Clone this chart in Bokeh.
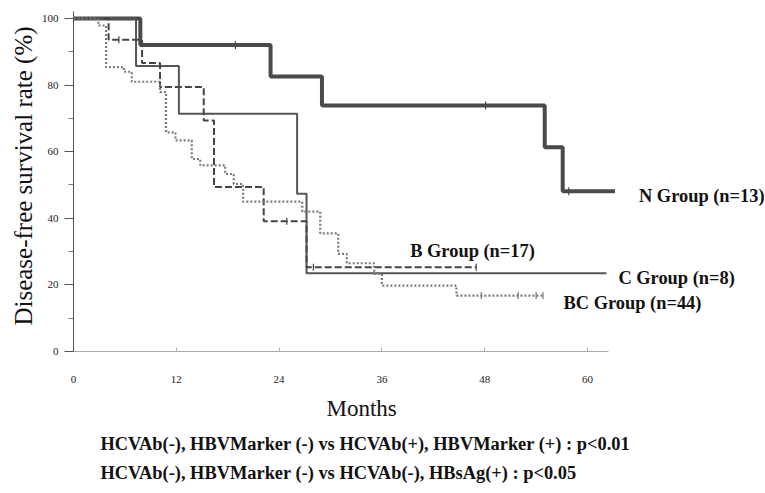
import numpy as np
from bokeh.plotting import figure
from bokeh.models import Range1d, FixedTicker, Label, Title
from bokeh.embed import file_html
from bokeh.resources import INLINE

# ---- data (months, survival %) ----
n_times = [0, 7.8, 23.0, 29.0, 55.0, 57.1, 63.2]
n_surv = [100, 92.0, 82.6, 73.9, 61.3, 48.1, 48.1]
n_cens_t = [18.9, 48.1, 57.8]
n_cens_s = [92.0, 73.9, 48.1]

c_times = [0, 7.3, 12.3, 26.1, 27.2, 62.2]
c_surv = [100, 85.7, 71.4, 47.4, 23.5, 23.5]

b_times = [0, 4.1, 8.0, 10.1, 15.2, 16.4, 22.2, 27.2, 47.0]
b_surv = [100, 93.6, 86.6, 79.4, 69.4, 49.4, 39.1, 25.3, 25.3]
b_cens_t = [5.3, 24.9, 28.0, 47.0]
b_cens_s = [93.6, 39.1, 25.3, 25.3]

bc_times = [0, 2.9, 3.8, 5.9, 6.8, 10.1, 10.8, 11.9, 13.8, 14.8, 17.7, 18.7,
            19.8, 26.7, 28.8, 30.9, 31.9, 35.1, 36.0, 44.7, 54.8]
bc_surv = [100, 97.9, 85.4, 84.0, 81.0, 77.9, 65.8, 63.4, 57.8, 55.9, 53.3, 50.3,
           45.0, 42.0, 35.5, 29.3, 26.5, 23.3, 19.8, 16.8, 16.8]
bc_cens_t = [47.6, 51.9, 54.0, 54.8]
bc_cens_s = [16.8, 16.8, 16.8, 16.8]

x_ticks = [0, 12, 24, 36, 48, 60]
x_axis_extent = (0, 62.5)
y_ticks = [0, 20, 40, 60, 80, 100]
y_minor = [10, 30, 50, 70, 90]
y_axis_extent = (0, 102)

group_labels = ["N Group (n=13)", "B Group (n=17)", "C Group (n=8)", "BC Group (n=44)"]
group_label_x = [66.0, 39.3, 63.6, 57.2]
group_label_y = [46.8, 30.3, 22.2, 14.7]

x_title = "Months"
y_title = "Disease-free survival rate (%)"
note_lines = ["HCVAb(-), HBVMarker (-) vs HCVAb(+), HBVMarker (+) : p<0.01",
              "HCVAb(-), HBVMarker (-) vs HCVAb(-), HBsAg(+) : p<0.05"]

SERIF = "Liberation Serif"

p = figure(width=765, height=493, x_range=Range1d(0, 80.77), y_range=Range1d(0, 105.4),
           output_backend="svg", toolbar_location=None,
           min_border_left=73, min_border_right=0, min_border_top=0, min_border_bottom=142)
p.outline_line_color = None
p.xgrid.visible = False
p.ygrid.visible = False
p.background_fill_color = "white"

# curves
p.step(n_times, n_surv, mode="after", line_color="#4a4a4a", line_width=4)
p.step(c_times, c_surv, mode="after", line_color="#555555", line_width=2)
p.step(b_times, b_surv, mode="after", line_color="#444444", line_width=2, line_dash="7 3")
p.step(bc_times, bc_surv, mode="after", line_color="#7a7a7a", line_width=2.2, line_dash="2 2")

# censor marks
p.scatter(n_cens_t, n_cens_s, marker="dash", angle=np.pi / 2, size=8, line_color="#4a4a4a", line_width=1.2)
p.scatter(b_cens_t, b_cens_s, marker="dash", angle=np.pi / 2, size=7, line_color="#444444", line_width=1.2)
p.scatter(bc_cens_t, bc_cens_s, marker="dash", angle=np.pi / 2, size=7, line_color="#777777", line_width=1.2)

# axes
xa = p.xaxis[0]
xa.ticker = FixedTicker(ticks=x_ticks)
xa.bounds = x_axis_extent
xa.major_tick_in = 4
xa.major_tick_out = 0
xa.minor_tick_in = 0
xa.minor_tick_out = 0
xa.axis_line_color = "#aaaaaa"
xa.major_tick_line_color = "#aaaaaa"
xa.major_label_text_font = SERIF
xa.major_label_text_font_size = "11px"
xa.major_label_text_color = "#222222"
xa.major_label_standoff = 24

ya = p.yaxis[0]
ya.ticker = FixedTicker(ticks=y_ticks, minor_ticks=y_minor)
ya.bounds = y_axis_extent
ya.major_tick_in = 0
ya.major_tick_out = 9
ya.minor_tick_in = 0
ya.minor_tick_out = 5
ya.axis_line_color = "#555555"
ya.major_tick_line_color = "#555555"
ya.minor_tick_line_color = "#777777"
ya.major_label_text_font = SERIF
ya.major_label_text_font_size = "11px"
ya.major_label_text_color = "#222222"
ya.major_label_standoff = 6
ya.axis_label = y_title
ya.axis_label_text_font = SERIF
ya.axis_label_text_font_size = "25px"
ya.axis_label_text_font_style = "normal"
ya.axis_label_text_color = "#111111"
ya.axis_label_standoff = 2

for txt, lx, ly in zip(group_labels, group_label_x, group_label_y):
    p.add_layout(Label(x=lx, y=ly, text=txt, text_font=SERIF, text_font_style="bold",
                       text_font_size="18.4px", text_baseline="middle", text_align="left",
                       text_color="#111111"))

p.add_layout(Title(text=x_title, align="left", offset=253, standoff=16,
                   text_font=SERIF, text_font_style="normal", text_font_size="23px",
                   text_color="#111111"), "below")
for txt, so in zip(note_lines, [6, 9]):
    p.add_layout(Title(text=txt, align="left", offset=27, standoff=so,
                       text_font=SERIF, text_font_style="bold", text_font_size="18.4px",
                       text_color="#111111"), "below")

open("out.html", "w").write(file_html(p, INLINE))
